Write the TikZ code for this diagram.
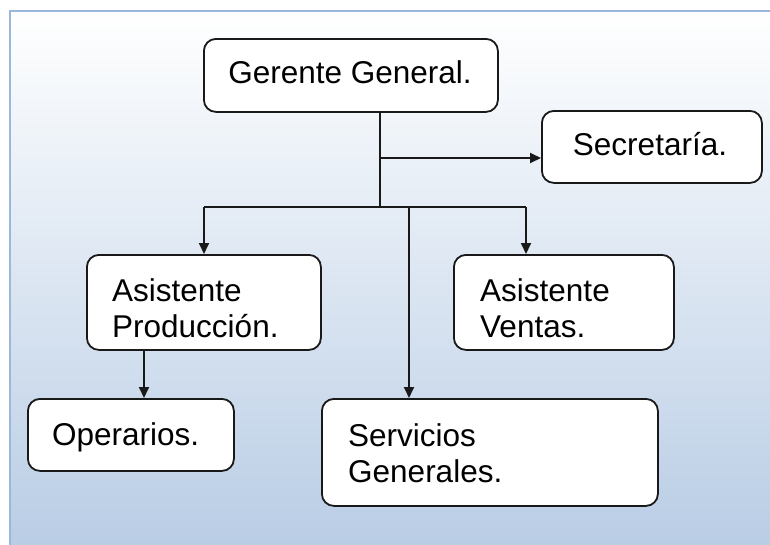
\documentclass[tikz,border=0pt]{standalone}
\usepackage{fontspec}
\setmainfont{Liberation Sans}
\usetikzlibrary{arrows.meta}
\definecolor{bgblue}{HTML}{B9CDE5}
\definecolor{edgeblue}{HTML}{9BB8DB}
\begin{document}
\begin{tikzpicture}[x=1pt,y=-1pt,
  box/.style={draw=black!90, line width=1.8pt, rounded corners=12pt, fill=white, inner sep=0pt, anchor=north west},
  lbl/.style={inner sep=0pt, align=left, font=\fontsize{31.5}{36}\selectfont},
  link/.style={line width=1.8pt, black!90},
  arr/.style={link, -{Triangle[length=11pt,width=10pt]}}]
% background
\path[use as bounding box, fill=white] (0,0) rectangle (770,544);
\shade[top color=white, bottom color=bgblue] (10,11) rectangle (772,546);
\draw[edgeblue, line width=2.5pt] (10,546) -- (10,11) -- (772,11);
% boxes
\node[box, minimum width=294pt, minimum height=73pt] (gg) at (203,38) {};
\node[box, minimum width=220pt, minimum height=72pt] (sec) at (541,110) {};
\node[box, minimum width=234pt, minimum height=95pt] (ap) at (86,254) {};
\node[box, minimum width=220pt, minimum height=95pt] (av) at (453,254) {};
\node[box, minimum width=206pt, minimum height=72pt] (op) at (27,398) {};
\node[box, minimum width=336pt, minimum height=107pt] (sg) at (321,398) {};
% texts
\node[lbl, anchor=base] (tgg) at (350,83) {Gerente General.};
\node[lbl, anchor=base] (tsec) at (650,155) {Secretaría.};
\node[lbl, anchor=base west] (tap) at (112,337) {Asistente\\Producción.};
\node[lbl, anchor=base west] (tav) at (480,337) {Asistente\\Ventas.};
\node[lbl, anchor=base west] (top) at (52,445) {Operarios.};
\node[lbl, anchor=base west] (tsg) at (348,482) {Servicios\\Generales.};
% junctions
\coordinate (jm) at (380,207);
\coordinate (js) at (380,158);
\coordinate (jl) at (204,207);
\coordinate (jc) at (409,207);
\coordinate (jr) at (526,207);
\coordinate (jo) at (144,349);
% connectors
\draw[link] (gg.south -| jm) -- (jm);
\draw[arr] (js) -- (sec.west |- js);
\draw[link] (jl) -- (jr);
\draw[arr] (jl) -- (ap.north -| jl);
\draw[arr] (jc) -- (sg.north -| jc);
\draw[arr] (jr) -- (av.north -| jr);
\draw[arr] (ap.south -| jo) -- (op.north -| jo);
\end{tikzpicture}
\end{document}
